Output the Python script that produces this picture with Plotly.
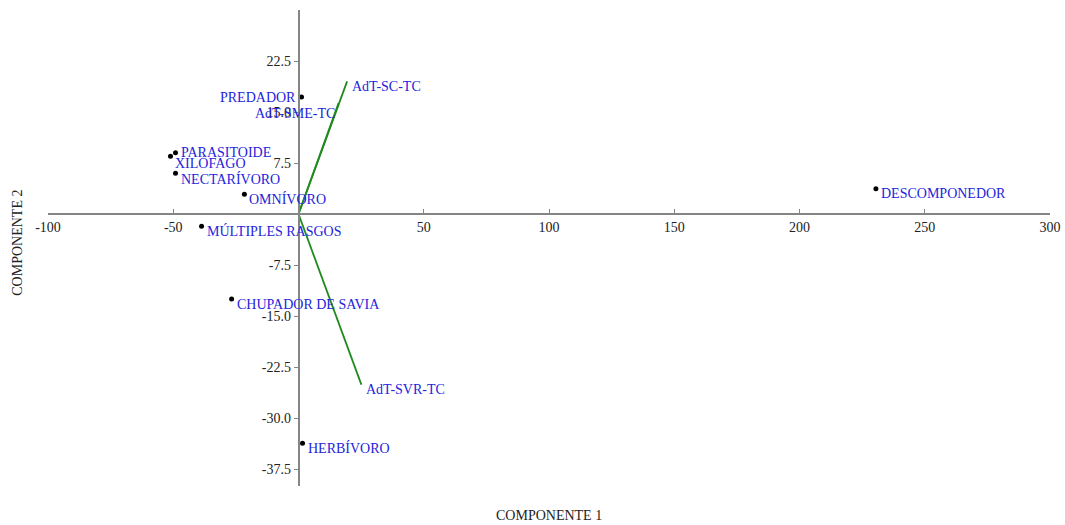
import plotly.graph_objects as go

# Individuals (scores)
point_names = ["PREDADOR", "PARASITOIDE", "XILÓFAGO", "NECTARÍVORO", "OMNÍVORO",
               "MÚLTIPLES RASGOS", "CHUPADOR DE SAVIA", "HERBÍVORO", "DESCOMPONEDOR"]
point_x = [1.2, -49.1, -51.1, -49.1, -21.6, -38.7, -26.7, 1.6, 230.5]
point_y = [17.2, 9.0, 8.5, 6.0, 2.9, -1.8, -12.5, -33.7, 3.7]

# Variables (loadings)
vector_names = ["AdT-SC-TC", "AdT-SME-TC", "AdT-SVR-TC"]
vector_x = [19.4, 16.0, 25.1]
vector_y = [19.5, 16.3, -25.1]

# Ticks
x_ticks = [-100, -50, 50, 100, 150, 200, 250, 300]
y_ticks = [22.5, 15.0, 7.5, -7.5, -15.0, -22.5, -30.0, -37.5]
x_range = [-100, 300]
y_range = [-40, 30]

# label placement (style only): (xanchor, xshift, yshift)
point_label_style = {
    "PREDADOR": ("right", -4, 0),
    "PARASITOIDE": ("left", 3, 0),
    "XILÓFAGO": ("left", 3, -7),
    "NECTARÍVORO": ("left", 3, -6),
}
default_point_style = ("left", 3, -5)
vector_label_style = {
    "AdT-SC-TC": ("left", 3, -5),
    "AdT-SME-TC": ("right", -2, -10),
    "AdT-SVR-TC": ("left", 3, -5),
}

FONT = "Liberation Serif, Times New Roman, serif"
FS = 14
TEXT_BLUE = "#2424dc"
AXIS_GRAY = "#858585"
GREEN = "#1f8a1f"

fig = go.Figure()

for name, vx, vy in zip(vector_names, vector_x, vector_y):
    fig.add_trace(go.Scatter(x=[0, vx], y=[0, vy], mode="lines",
                             line=dict(color=GREEN, width=1.8),
                             hoverinfo="skip", showlegend=False))

fig.add_trace(go.Scatter(x=point_x, y=point_y, mode="markers",
                         marker=dict(color="black", size=5),
                         text=point_names, showlegend=False))

annotations = []
for name, px, py in zip(point_names, point_x, point_y):
    xa, xs, ys = point_label_style.get(name, default_point_style)
    annotations.append(dict(x=px, y=py, xref="x", yref="y", text=name, showarrow=False,
                            xanchor=xa, yanchor="middle", xshift=xs, yshift=ys,
                            font=dict(family=FONT, size=FS, color=TEXT_BLUE)))
for name, vx, vy in zip(vector_names, vector_x, vector_y):
    xa, xs, ys = vector_label_style[name]
    annotations.append(dict(x=vx, y=vy, xref="x", yref="y", text=name, showarrow=False,
                            xanchor=xa, yanchor="middle", xshift=xs, yshift=ys,
                            font=dict(family=FONT, size=FS, color=TEXT_BLUE)))

annotations.append(dict(x=0.5, y=-0.061, xref="paper", yref="paper", text="COMPONENTE 1",
                        showarrow=False, xanchor="center", yanchor="middle",
                        font=dict(family=FONT, size=FS, color="#222")))
annotations.append(dict(x=-0.0305, y=0.512, xref="paper", yref="paper", text="COMPONENTE 2",
                        showarrow=False, xanchor="center", yanchor="middle", textangle=-90,
                        font=dict(family=FONT, size=FS, color="#222")))

x_zero_frac = (0 - y_range[0]) / (y_range[1] - y_range[0])
y_zero_frac = (0 - x_range[0]) / (x_range[1] - x_range[0])

fig.update_layout(
    width=1065, height=525,
    margin=dict(l=48, r=15, t=10, b=39, autoexpand=False),
    paper_bgcolor="white", plot_bgcolor="white",
    font=dict(family=FONT, size=FS, color="#222"),
    annotations=annotations,
    xaxis=dict(range=x_range, anchor="free", position=x_zero_frac, automargin=False,
               showgrid=False, zeroline=False, showline=True,
               linecolor=AXIS_GRAY, linewidth=1.5,
               tickmode="array", tickvals=x_ticks, ticktext=[str(v) for v in x_ticks],
               ticks="inside", ticklen=4, tickcolor=AXIS_GRAY, tickwidth=1,
               tickfont=dict(family=FONT, size=FS, color="#222")),
    yaxis=dict(range=y_range, anchor="free", position=y_zero_frac, automargin=False,
               showgrid=False, zeroline=False, showline=True,
               linecolor=AXIS_GRAY, linewidth=1.5,
               tickmode="array", tickvals=y_ticks, ticktext=[f"{v:.1f}" for v in y_ticks],
               ticks="outside", ticklen=4, tickcolor=AXIS_GRAY, tickwidth=1,
               tickfont=dict(family=FONT, size=FS, color="#222")),
)

fig.write_html("out.html", config={"displayModeBar": False},
               post_script="document.body.style.margin='0';document.body.style.overflow='hidden';")
